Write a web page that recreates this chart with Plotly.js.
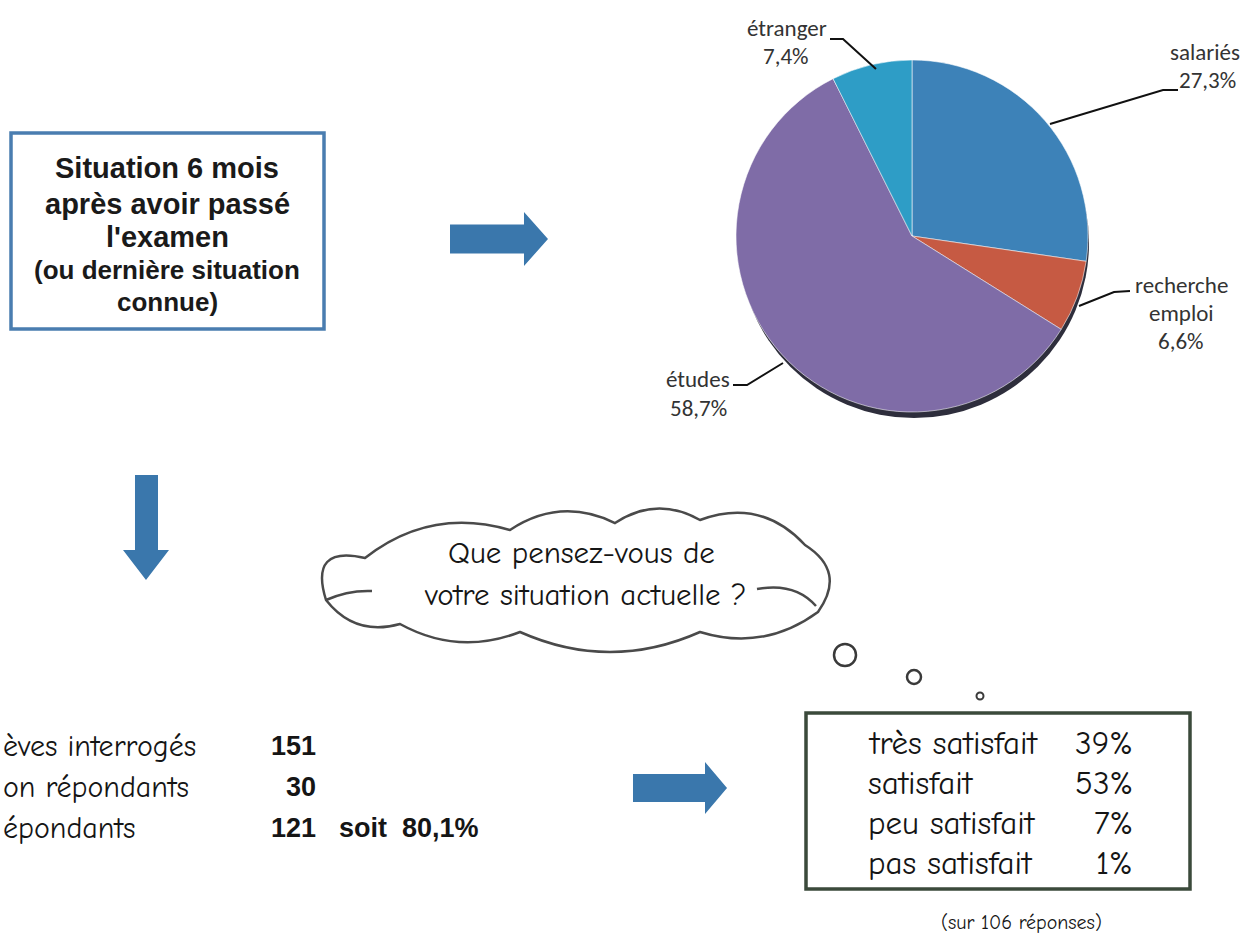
<!DOCTYPE html>
<html><head><meta charset="utf-8">
<script src="https://cdn.plot.ly/plotly-3.0.1.min.js"></script>
<style>html,body{margin:0;padding:0;background:#fff}#chart{width:1245px;height:933px}</style>
</head><body><div id="chart"></div>
<script>
// ---- data ----
const pieLabels = ['salariés', 'recherche emploi', 'études', 'étranger'];
const pieValues = [27.3, 6.6, 58.7, 7.4];
const pieColors = ['#3d82b8', '#c65a43', '#7f6ca7', '#2e9dc6'];

const satLabels = ['très satisfait', 'satisfait', 'peu satisfait', 'pas satisfait'];
const satValues = [39, 53, 7, 1];
const satTotal = 106;

// labels as visible on the (left-cropped) page
const surveyLabels = ['èves interrogés', 'on répondants', 'épondants'];
const surveyCounts = [151, 30, 121];

const boxLines = ['Situation 6 mois', 'après avoir passé', "l'examen", '(ou dernière situation', 'connue)'];
const cloudLines = ['Que pensez-vous de', 'votre situation actuelle ?'];

// ---- helpers (pixel -> paper) ----
const W = 1245, H = 933;
const px = x => x / W, py = y => 1 - y / H;
const P = p => px(p[0]).toFixed(5) + ',' + py(p[1]).toFixed(5);
const fr = v => v.toFixed(1).replace('.', ',') + '%';

const COMIC = 'Comic Neue, Comic Sans MS, Noto Sans, sans-serif';
const CAL = 'Carlito, Lato, Open Sans, sans-serif';
const ARIALB = 'Liberation Sans, Arial, sans-serif';
const BLUE = '#3a77ac';

const annotations = [];
function txt(x, y, text, o) {
  o = o || {};
  annotations.push({
    xref: 'paper', yref: 'paper', x: px(x), y: py(y), text: text, showarrow: false,
    xanchor: o.xa || 'center', yanchor: 'middle',
    font: { family: o.family || COMIC, size: o.size || 22, color: o.color || '#151515', weight: o.weight || 'normal' }
  });
}
const shapes = [];
function rect(x0, y0, x1, y1, color, w) {
  shapes.push({ type: 'rect', xref: 'paper', yref: 'paper', x0: px(x0), x1: px(x1), y0: py(y1), y1: py(y0),
    line: { color: color, width: w }, fillcolor: 'rgba(0,0,0,0)' });
}
function poly(pts, color, fill, w) {
  shapes.push({ type: 'path', xref: 'paper', yref: 'paper',
    path: 'M' + pts.map(P).join(' L') + (fill ? ' Z' : ''),
    line: { color: color, width: w || 0 }, fillcolor: fill || 'rgba(0,0,0,0)' });
}
function circle(cx, cy, r, color, w, fill) {
  shapes.push({ type: 'circle', xref: 'paper', yref: 'paper', x0: px(cx - r), x1: px(cx + r), y0: py(cy + r), y1: py(cy - r),
    line: { color: color, width: w }, fillcolor: fill || 'rgba(0,0,0,0)', layer: 'below' });
}
function arrowRight(x0, x1, xt, yc, bh, hh) {
  poly([[x0, yc - bh], [x1, yc - bh], [x1, yc - hh], [xt, yc], [x1, yc + hh], [x1, yc + bh], [x0, yc + bh]], BLUE, BLUE, 0);
}

// ---- left box ----
rect(11, 133, 324, 329, '#4a7db0', 3.5);
const boxY = [168, 204, 237, 270, 302];
const boxSizes = [29, 29, 29, 26, 26];
boxLines.forEach((l, i) => txt(167, boxY[i], '<b>' + l + '</b>', { family: ARIALB, size: boxSizes[i], color: '#1a1a1a' }));

// ---- arrows ----
arrowRight(450, 524, 548, 239, 14.5, 27);
arrowRight(633, 705, 727, 788, 14, 26);
poly([[135, 475], [158, 475], [158, 550], [169, 550], [146, 580], [123, 550], [135, 550]], BLUE, BLUE, 0);

// ---- pie ----
const pc = [912, 236], pr = 176;
circle(pc[0] + 2, pc[1] + 7, pr - 1, 'rgba(0,0,0,0)', 0, '#2e2e3c');
const pieTrace = {
  type: 'pie', labels: pieLabels, values: pieValues, sort: false, direction: 'clockwise', rotation: 0,
  marker: { colors: pieColors, line: { color: 'rgba(255,255,255,0.7)', width: 0.8 } },
  textinfo: 'none', hoverinfo: 'none', showlegend: false,
  domain: { x: [px(pc[0] - pr), px(pc[0] + pr)], y: [py(pc[1] + pr), py(pc[1] - pr)] }
};

// pie labels + leader lines
const labelPos = [
  { lines: [[1205, 52], [1207, 80]], lead: [[1178, 90], [1163, 90], [1050, 124]] },
  { lines: [[1181, 285], [1181, 313], [1181, 341]], lead: [[1130, 291], [1114, 292], [1079, 306]] },
  { lines: [[698, 379], [698, 408]], lead: [[733, 385], [747, 385], [783, 363]] },
  { lines: [[787, 28], [786, 56]], lead: [[830, 39], [843, 39], [876, 69]] }
];
pieLabels.forEach((lab, i) => {
  const parts = lab.split(' ').concat([fr(pieValues[i])]);
  parts.forEach((t, j) => txt(labelPos[i].lines[j][0], labelPos[i].lines[j][1], t, { family: CAL, size: 23, color: '#333' }));
  poly(labelPos[i].lead, '#111', null, 2);
});

// ---- cloud ----
const cusps = [[365, 558], [510, 530], [615, 523], [700, 520], [805, 545], [818, 612], [700, 632], [520, 632], [400, 624], [326, 600]];
const bulge = [38, 30, 26, 36, 36, 30, 40, 28, 26, 50];
let cd = 'M' + P(cusps[0]);
for (let i = 0; i < cusps.length; i++) {
  const a = cusps[i], b = cusps[(i + 1) % cusps.length];
  const dx = b[0] - a[0], dy = b[1] - a[1], L = Math.hypot(dx, dy);
  const c = [(a[0] + b[0]) / 2 + dy / L * bulge[i], (a[1] + b[1]) / 2 - dx / L * bulge[i]];
  cd += ' Q' + P(c) + ' ' + P(b);
}
shapes.push({ type: 'path', xref: 'paper', yref: 'paper', path: cd + ' Z', line: { color: '#4a4a4a', width: 2.5 }, fillcolor: 'rgba(0,0,0,0)' });
shapes.push({ type: 'path', xref: 'paper', yref: 'paper', path: 'M' + P([757, 589]) + ' Q' + P([795, 582]) + ' ' + P([816, 606]), line: { color: '#4a4a4a', width: 2.5 } });
shapes.push({ type: 'path', xref: 'paper', yref: 'paper', path: 'M' + P([372, 591]) + ' Q' + P([348, 590]) + ' ' + P([326, 600]), line: { color: '#4a4a4a', width: 2.5 } });
txt(581, 553, cloudLines[0], { size: 31 });
txt(585, 595, cloudLines[1], { size: 31 });

// thought bubbles
circle(845, 655, 11, '#3a3a3a', 2.5);
circle(914, 677, 7, '#3a3a3a', 2.5);
circle(980, 696, 3.5, '#3a3a3a', 2);

// ---- satisfaction box ----
rect(806, 713, 1190, 889, '#3b4a3b', 3.5);
const satY = [743, 783, 823, 863];
satLabels.forEach((l, i) => {
  txt(866, satY[i], l, { xa: 'left', size: 33 });
  txt(1135, satY[i], satValues[i] + '%', { xa: 'right', size: 33 });
});
txt(1021, 922, '(sur ' + satTotal + ' réponses)', { size: 20 });

// ---- survey counts ----
const surY = [746, 787, 828];
surveyLabels.forEach((l, i) => {
  txt(1, surY[i], l, { xa: 'left', size: 30 });
  txt(318, surY[i], '<b>' + surveyCounts[i] + '</b>', { xa: 'right', family: ARIALB, size: 27 });
});
txt(337, surY[2], '<b>soit  ' + fr(surveyCounts[2] / surveyCounts[0] * 100) + '</b>', { xa: 'left', family: ARIALB, size: 27 });

const layout = {
  width: W, height: H, margin: { l: 0, r: 0, t: 0, b: 0 },
  paper_bgcolor: '#ffffff', plot_bgcolor: '#ffffff',
  showlegend: false, shapes: shapes, annotations: annotations
};
Plotly.newPlot('chart', [pieTrace], layout, { displayModeBar: false, staticPlot: true });
</script></body></html>
